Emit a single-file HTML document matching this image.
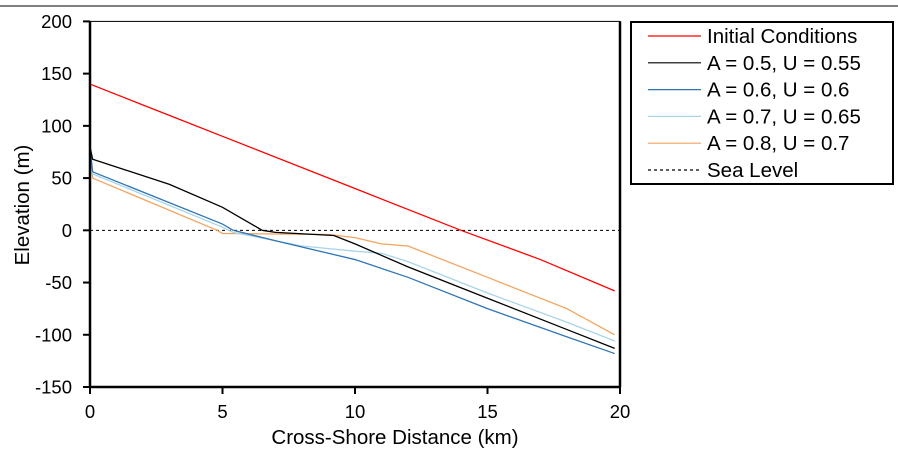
<!DOCTYPE html>
<html><head><meta charset="utf-8"><style>
body{margin:0;background:#fff;}
svg text{font-family:"Liberation Sans",Arial,sans-serif;}
</style></head><body>
<svg id="chart" width="898" height="454" xmlns="http://www.w3.org/2000/svg">
<line x1="0" y1="6" x2="898" y2="6" stroke="#000" stroke-width="1"/>
<g id="plot"></g>
<g id="axes"></g>
<text x="395" y="444" style="font-size:20.5px" text-anchor="middle">Cross-Shore Distance (km)</text>
<text x="29" y="205" style="font-size:20.5px" text-anchor="middle" transform="rotate(-90 29 205)">Elevation (m)</text>
<g id="legend"></g>
</svg>
<script>
const xTicks=[0,5,10,15,20];
const yTicks=[200,150,100,50,0,-50,-100,-150];
const seriesNames=["Initial Conditions","A = 0.5, U = 0.55","A = 0.6, U = 0.6","A = 0.7, U = 0.65","A = 0.8, U = 0.7"];
const initialX=[0,2,5,10,14,17,19.8];
const initialY=[140,120,90,40,0,-28,-58];
const s1X=[0,0.1,3,5,6.5,7,8.5,9.2,10,12,15,18,19.8];
const s1Y=[80,68,44,22,0,-2,-4,-5,-13,-35,-65,-95,-113];
const s2X=[0,0.1,5,5.4,7,10,12,15,18,19.8];
const s2Y=[80,56,6,0,-10,-28,-45,-75,-102,-118];
const s3X=[0,0.1,5,5.4,8,10,11,12,15,18,19.8];
const s3Y=[80,54,3,-2,-15,-20,-22,-30,-60,-88,-106];
const s4X=[0,0.1,4.8,5,9,10,11,12,15,18,19.8];
const s4Y=[82,50,0,-3,-4,-7,-13,-15,-45,-75,-100];
const colors=["#ff0000","#000000","#2e75b6","#a9d5e8","#f4a460"];
const X0=90,X1=620,Y0=21.4,Y1=387;
const xs=d=>X0+(d-0)/(20-0)*(X1-X0);
const ys=v=>Y1-(v+150)/350*(Y1-Y0);
const NS="http://www.w3.org/2000/svg";
function mk(t,a,p){const e=document.createElementNS(NS,t);for(const k in a)e.setAttribute(k,a[k]);p.appendChild(e);return e;}
const plot=document.getElementById('plot'),axes=document.getElementById('axes'),leg=document.getElementById('legend');
let sl=mk('line',{x1:xs(0),x2:xs(20),y1:ys(0),y2:ys(0),stroke:'#000','stroke-width':1,'stroke-dasharray':'3,3'},plot);


const data=[[initialX,initialY],[s1X,s1Y],[s2X,s2Y],[s3X,s3Y],[s4X,s4Y]];
const order=[4,3,2,1,0];
order.forEach(i=>{
 const [dx,dy]=data[i];
 const p=mk('polyline',{points:dx.map((d,j)=>xs(d)+','+ys(dy[j])).join(' '),fill:'none',stroke:colors[i],'stroke-width':1.3},plot);
 
 
});
let fr=mk('rect',{x:X0,y:Y0,width:X1-X0,height:Y1-Y0,fill:'none',stroke:'#000','stroke-width':1},axes);


let la=mk('line',{x1:X0,x2:X0,y1:Y0,y2:Y1,stroke:'#000','stroke-width':2.5},axes);


let ba=mk('line',{x1:X0,x2:X1,y1:Y1,y2:Y1,stroke:'#000','stroke-width':2.5},axes);


let ra=mk('line',{x1:X1,x2:X1,y1:Y0,y2:Y1,stroke:'#000','stroke-width':2.5},axes);


yTicks.forEach(v=>{
 mk('line',{x1:X0-7,x2:X0,y1:ys(v),y2:ys(v),stroke:'#000','stroke-width':2},axes);
 const t=mk('text',{x:X0-18,y:ys(v)+6.5,style:'font-size:18.5px','text-anchor':'end'},axes);t.textContent=v;
 
 
});
xTicks.forEach(v=>{
 mk('line',{x1:xs(v),x2:xs(v),y1:Y1,y2:Y1+7,stroke:'#000','stroke-width':2},axes);
 const t=mk('text',{x:xs(v),y:Y1+31,style:'font-size:18.5px','text-anchor':'middle'},axes);t.textContent=v;
 
 
});
let lb=mk('rect',{x:631,y:22,width:262,height:162,fill:'#fff',stroke:'#000','stroke-width':2},leg);


const names=seriesNames.concat(["Sea Level"]);
names.forEach((n,i)=>{
 const y=36+i*26.8;
 const l=mk('line',{x1:648,x2:701,y1:y,y2:y,stroke:i<5?colors[i]:'#000','stroke-width':1.2},leg);
 if(i==5)l.setAttribute('stroke-dasharray','3,3');
 const t=mk('text',{x:707,y:y+7,style:'font-size:20.5px'},leg);t.textContent=n;
 
 
});
</script>
</body></html>
